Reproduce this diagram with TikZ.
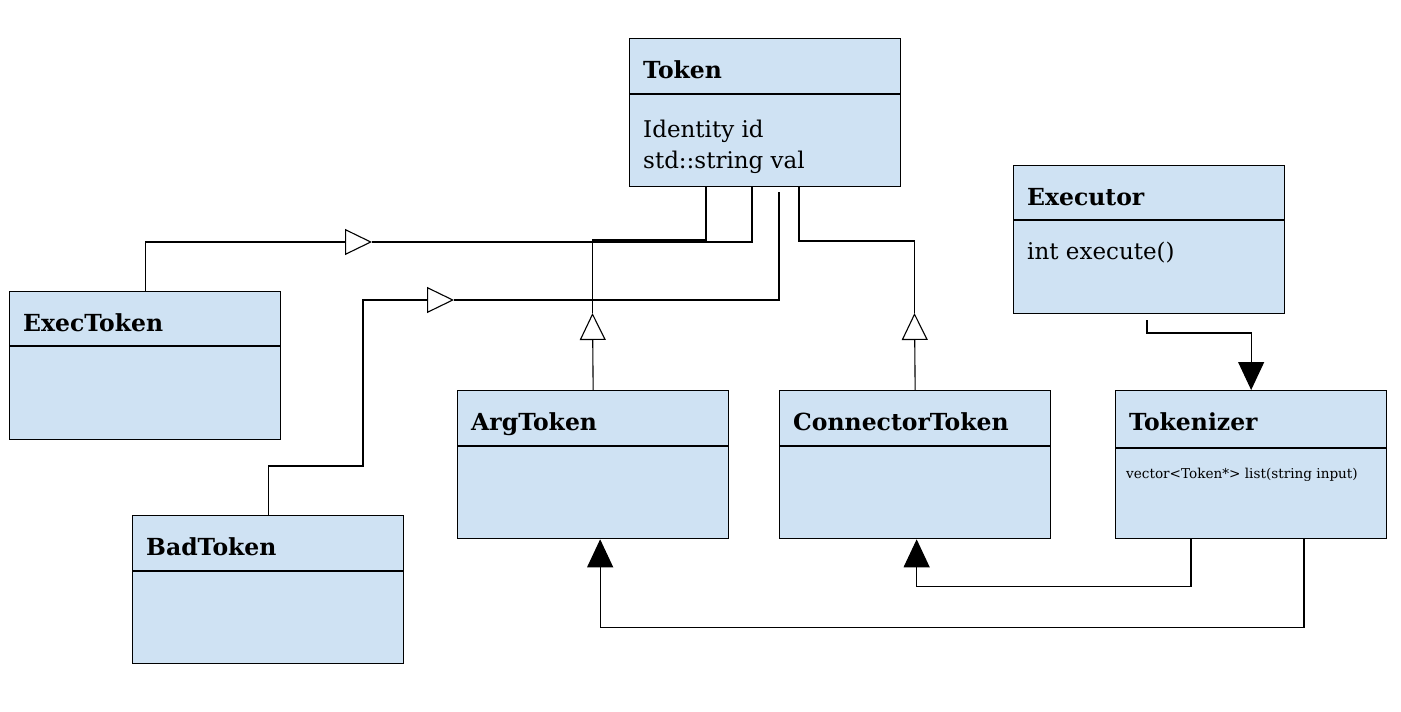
\documentclass[tikz,border=0pt]{standalone}
\usepackage{fontspec}
\setmainfont{DejaVu Serif}
\usetikzlibrary{arrows.meta}
\definecolor{boxblue}{HTML}{CFE2F3}
\tikzset{
  cls/.style={draw, fill=boxblue, line width=1.3pt, anchor=north west, inner sep=0pt,
              minimum width=271pt, minimum height=148pt},
  ttl/.style={anchor=base west, inner sep=0pt, font=\bfseries\fontsize{23.5}{28}\selectfont},
  attr/.style={anchor=base west, inner sep=0pt, align=left, font=\fontsize{23}{31}\selectfont},
  divline/.style={line width=1.3pt},
  conn/.style={line width=1.1pt, black},
  gen/.style={conn, -{Triangle[open, length=27pt, width=26pt, line width=1.1pt]}},
  dep/.style={conn, -{Triangle[length=28pt, width=26pt]}}
}
\newcommand{\umlbox}[5]{%
  \node[cls] (#1) at (#2,#3) {};
  \node[ttl] (#1-t) at ([xshift=14pt,yshift=-40pt]#1.north west) {#4};
  \draw[divline] ([yshift=-#5pt]#1.north west) -- ([yshift=-#5pt]#1.north east);
}
\begin{document}
\begin{tikzpicture}[x=1pt,y=-1pt]
\useasboundingbox (0,0) rectangle (1401,712);

\umlbox{Token}{629}{38}{Token}{56}
\umlbox{Executor}{1013}{165}{Executor}{55}
\umlbox{ExecToken}{9}{291}{ExecToken}{55}
\umlbox{ArgToken}{457}{390}{ArgToken}{56}
\umlbox{ConnectorToken}{779}{390}{ConnectorToken}{56}
\umlbox{Tokenizer}{1115}{390}{Tokenizer}{58}
\umlbox{BadToken}{132}{515}{BadToken}{56}

\node[attr] (Token-a) at ([xshift=14pt,yshift=-130pt]Token.north west) {Identity id\\std::string val};
\node[attr] (Executor-a) at ([xshift=14pt,yshift=-94pt]Executor.north west) {int execute()};
\node[attr, font=\fontsize{13.6}{16}\selectfont] (Tokenizer-a) at ([xshift=11pt,yshift=-88pt]Tokenizer.north west) {vector<Token*> list(string input)};

% generalizations
\coordinate (g1) at (372,242);
\draw[gen] (ExecToken.north) |- (g1);
\draw[conn] (g1) -| ([xshift=123pt]Token.south west);

\coordinate (g2) at (454,300);
\draw[gen] (BadToken.north) |- (363,466) |- (g2);
\draw[conn, shorten >=5pt] (g2) -| ([xshift=150pt]Token.south west);

\coordinate (g3) at (592.5,313);
\draw[gen] (ArgToken.north) -- (g3);
\draw[conn] (g3) -- (592.5,240) -| ([xshift=77pt]Token.south west);

\coordinate (g4) at (914.5,313);
\draw[gen] (ConnectorToken.north) -- (g4);
\draw[conn] (g4) -- (914.5,241) -| ([xshift=170pt]Token.south west);

% associations
\draw[dep] ([xshift=134pt,yshift=-6pt]Executor.south west) |- ([yshift=57pt]Tokenizer.north) -- (Tokenizer.north);
\draw[dep] ([xshift=76pt]Tokenizer.south west) |- ([xshift=1.5pt,yshift=-47pt]ConnectorToken.south) -- ([xshift=1.5pt]ConnectorToken.south);
\draw[dep] ([xshift=189pt]Tokenizer.south west) |- ([xshift=7pt,yshift=-88pt]ArgToken.south) -- ([xshift=7pt]ArgToken.south);
\end{tikzpicture}
\end{document}
